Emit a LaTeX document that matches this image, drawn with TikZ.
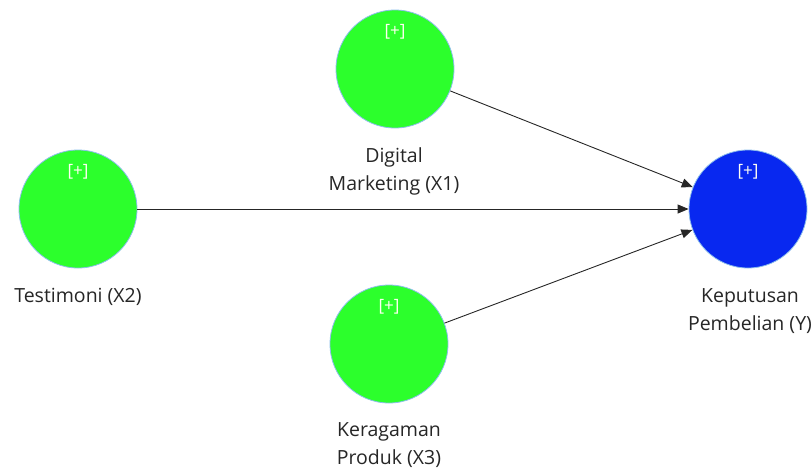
\documentclass[tikz,border=0pt]{standalone}
\usepackage{fontspec}
\setmainfont{Open Sans}
\usetikzlibrary{arrows.meta}
\definecolor{lvgreen}{RGB}{44,255,44}
\definecolor{lvblue}{RGB}{8,40,240}
\definecolor{lvedge}{RGB}{140,190,235}
\begin{document}
\begin{tikzpicture}[x=1pt,y=-1pt,
  latent/.style={circle,draw=lvedge,line width=0.8pt,minimum size=118pt,inner sep=0pt},
  gr/.style={latent,fill=lvgreen},
  bl/.style={latent,fill=lvblue},
  plus/.style={font=\fontsize{17}{17}\selectfont,text=white!95!yellow},
  lbl/.style={font=\fontsize{19.5}{28}\selectfont,align=center,text=black!85},
  path/.style={-{Triangle[length=11pt,width=9pt]},line width=0.9pt,black!85}]
\useasboundingbox (0,0) rectangle (812,467);
\node[gr] (x1) at (395,69) {};
\node[gr] (x2) at (78,209) {};
\node[gr] (x3) at (389,344) {};
\node[bl] (y) at (748,209) {};
\node[plus] (p1) at (395,32) {[+]};
\node[plus] (p2) at (78,172) {[+]};
\node[plus] (p3) at (389,307) {[+]};
\node[plus] (p4) at (748,172) {[+]};
\node[lbl] (l1) at (394,171) {Digital\\Marketing (X1)};
\node[lbl] (l2) at (78,297) {Testimoni (X2)};
\node[lbl] (l3) at (389,445) {Keragaman\\Produk (X3)};
\node[lbl] (l4) at (750,311) {Keputusan\\Pembelian (Y)};
\draw[path] (x1) -- (y);
\draw[path] (x2) -- (y);
\draw[path] (x3) -- (y);
\end{tikzpicture}
\end{document}
